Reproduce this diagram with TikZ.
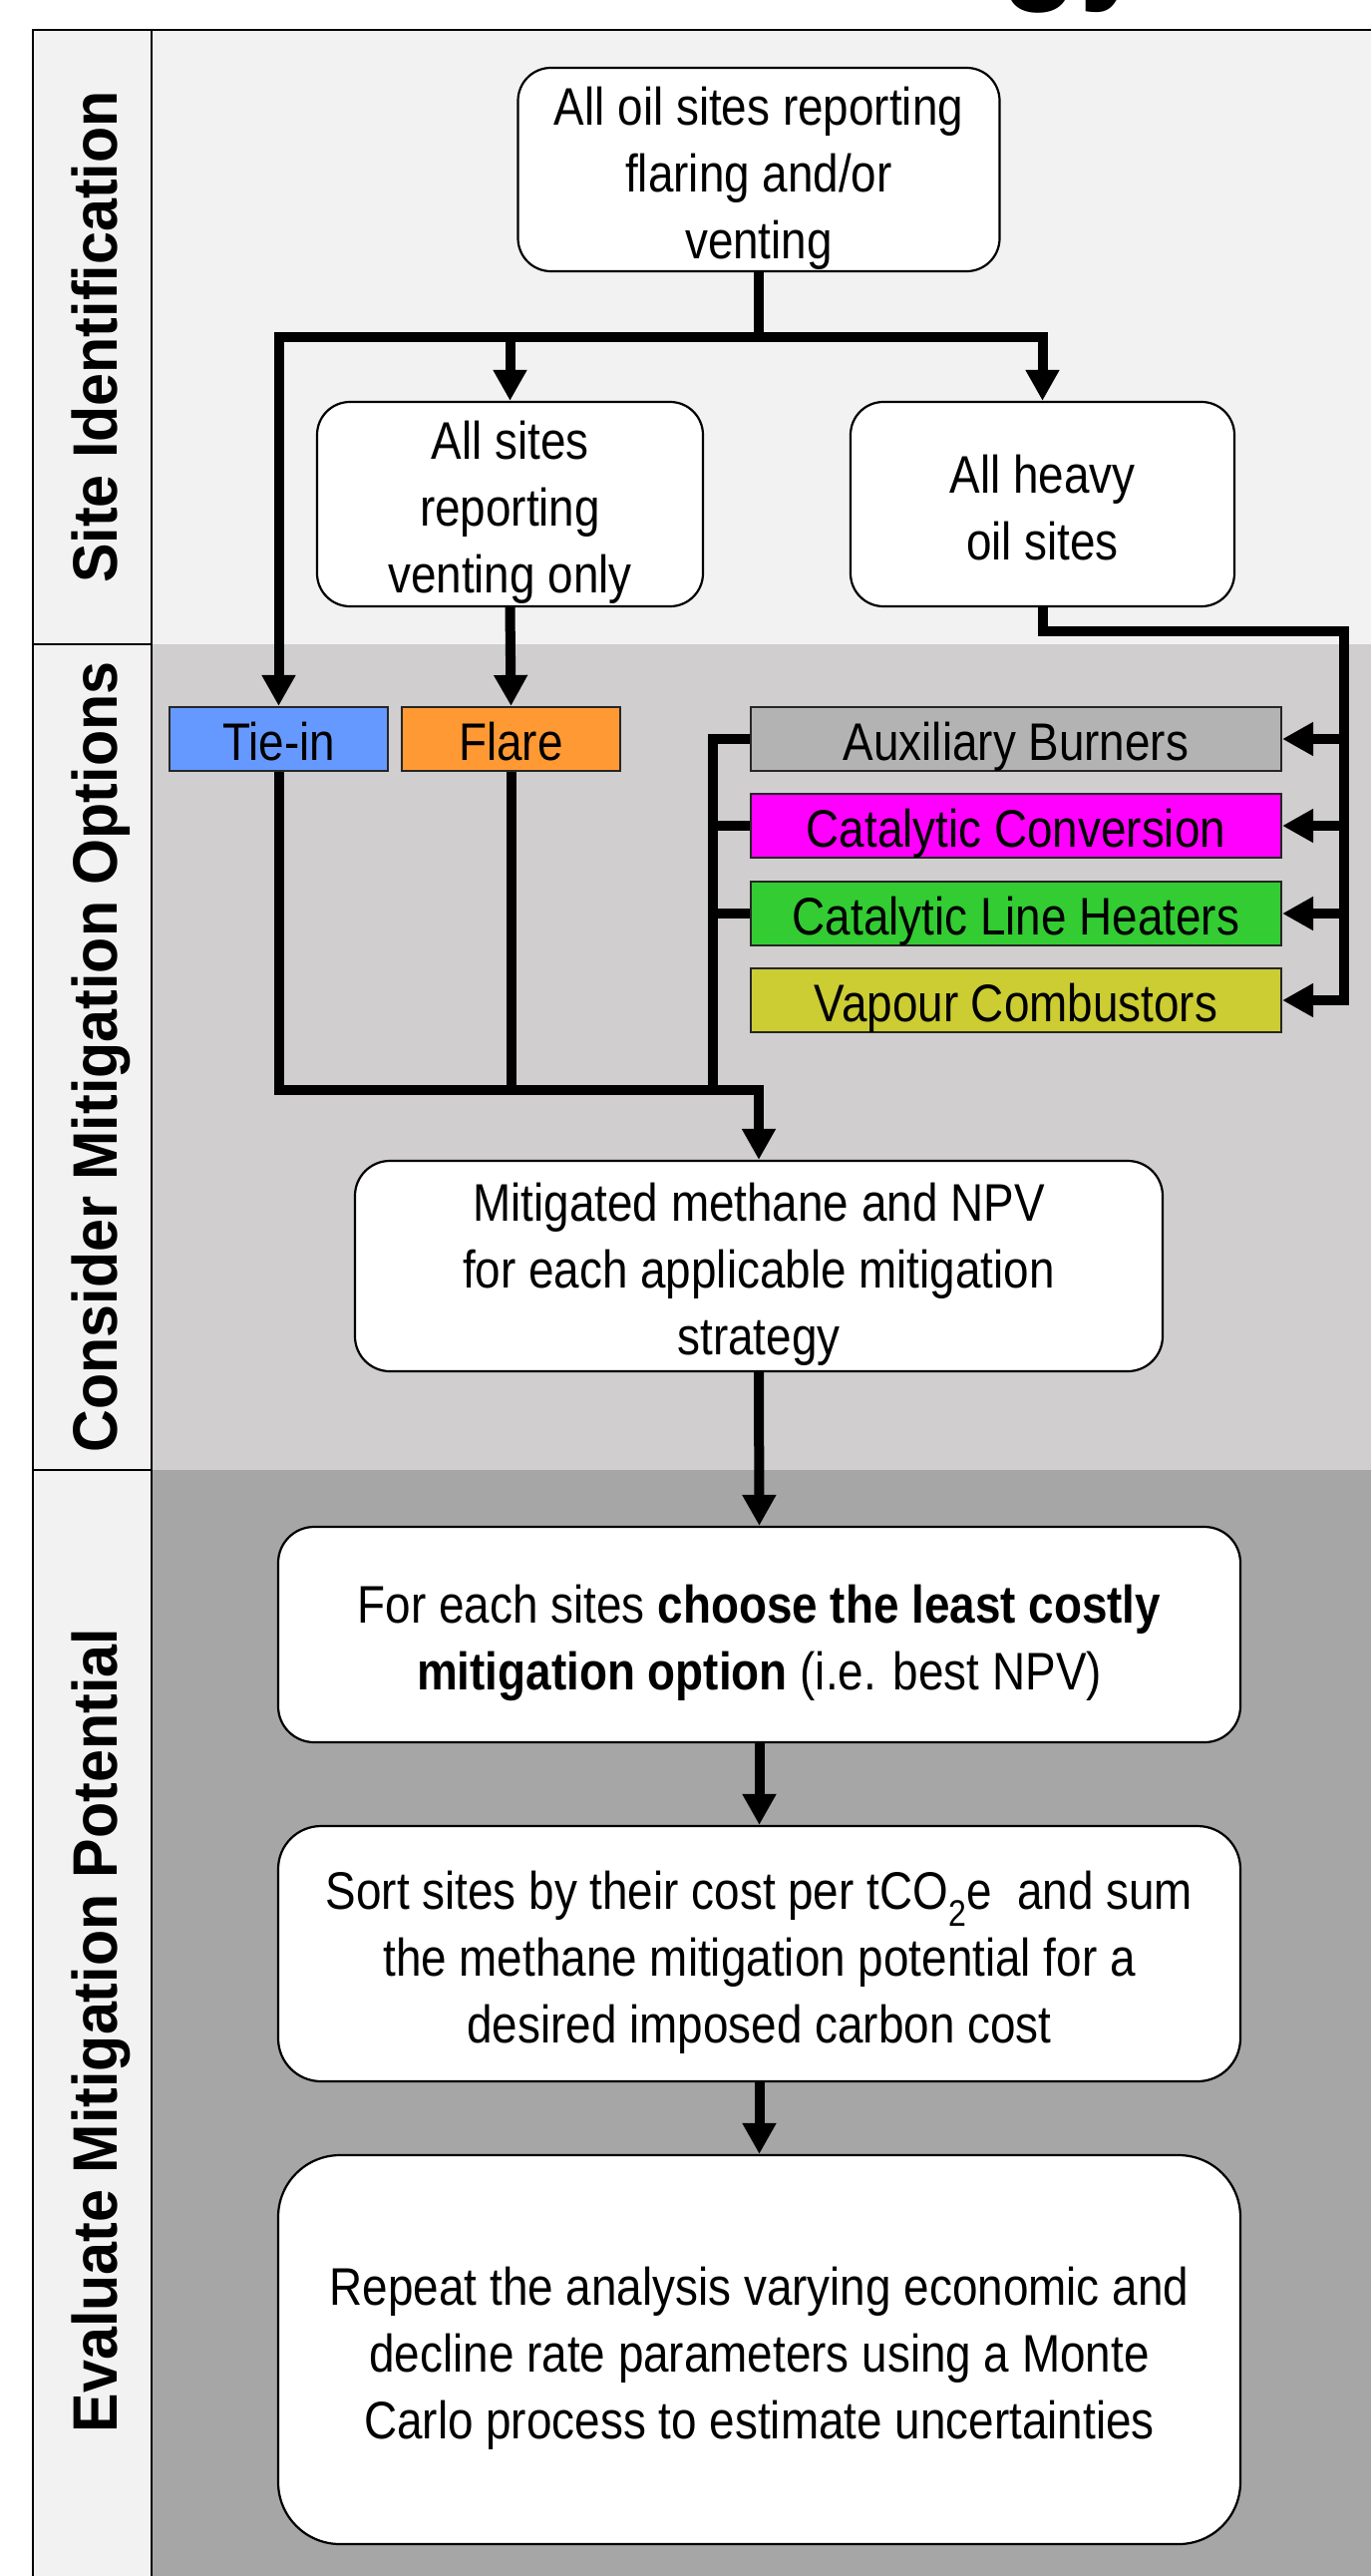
\documentclass[tikz,border=0pt]{standalone}
\usepackage{fontspec}
\usetikzlibrary{arrows.meta}
\newfontfamily\bodyf[FakeStretch=0.865]{Liberation Sans}
\newfontfamily\lanef[FakeStretch=0.94]{Liberation Sans}
\newcommand{\tS}{\rule{0pt}{55pt}}
\newcommand{\bS}{\rule[-11pt]{0pt}{0pt}}
\definecolor{laneA}{HTML}{F2F2F2}
\definecolor{laneB}{HTML}{D0CECE}
\definecolor{laneC}{HTML}{A6A6A6}
\definecolor{tieC}{HTML}{6699FF}
\definecolor{flareC}{HTML}{FF9933}
\definecolor{auxC}{HTML}{B3B3B3}
\definecolor{ccC}{HTML}{FF00FF}
\definecolor{clhC}{HTML}{33CC33}
\definecolor{vcC}{HTML}{CCCC33}
\tikzset{
 box/.style={draw=black, line width=2.2pt, fill=white, align=center, inner sep=0pt,
   font=\bodyf\fontsize{53}{67}\selectfont},
 opt/.style={draw=black!85, line width=2.2pt, align=center, inner sep=0pt,
   text height=53pt, text depth=11pt,
   font=\bodyf\fontsize{53}{67}\selectfont},
 conn/.style={line width=10pt, line join=miter, draw=black},
 arr/.style={conn, -{Triangle[length=31pt,width=32pt]}},
 lanelabel/.style={rotate=90, anchor=base, inner sep=0pt,
   font=\lanef\bfseries\fontsize{63}{70}\selectfont},
 frame/.style={line width=2.5pt, draw=black},
}
\begin{document}
\begin{tikzpicture}[x=1pt,y=-1pt]
\useasboundingbox (0,0) rectangle (1375,2583);
\fill[white] (0,0) rectangle (1375,2583);
% cropped title remnant
\begin{scope}
\clip (0,0) rectangle (1375,28);
\node[anchor=base west, inner sep=0pt, font=\bodyf\bfseries\fontsize{150}{150}\selectfont] (title) at (1003,-19) {gy};
\end{scope}
% lanes
\fill[laneA] (152,30) rectangle (1375,646);
\fill[laneB] (152,646) rectangle (1375,1474);
\fill[laneC] (152,1474) rectangle (1375,2583);
\fill[laneA] (33,30) rectangle (152,2583);
\draw[frame] (33,2583) -- (33,30) -- (1375,30);
\draw[frame] (152,30) -- (152,2583);
\draw[frame] (33,646) -- (152,646);
\draw[frame] (33,1474) -- (152,1474);
% lane labels
\node[lanelabel] (labA) at (117,338) {Site Identification};
\node[lanelabel] (labB) at (117,1060) {Consider Mitigation Options};
\node[lanelabel] (labC) at (117,2036) {Evaluate Mitigation Potential};
% boxes
\node[box, rounded corners=33pt, minimum width=483pt, minimum height=204pt] (b1) at (761,170)
  {\tS All oil sites reporting\\flaring and/or\\venting\bS};
\node[box, rounded corners=33pt, minimum width=387pt, minimum height=205pt] (b2) at (511.5,505.5)
  {\tS All sites\\reporting\\venting only\bS};
\node[box, rounded corners=33pt, minimum width=385pt, minimum height=205pt] (b3) at (1045.5,505.5)
  {\tS All heavy\\oil sites\bS};
\node[opt, fill=tieC, minimum width=219pt, minimum height=64pt] (tiein) at (279.5,741) {Tie-in};
\node[opt, fill=flareC, minimum width=219pt, minimum height=64pt] (flare) at (512.5,741) {Flare};
\node[opt, fill=auxC, minimum width=532pt, minimum height=64pt] (aux) at (1019,741) {Auxiliary Burners};
\node[opt, fill=ccC, minimum width=532pt, minimum height=64pt] (cc) at (1019,828) {Catalytic Conversion};
\node[opt, fill=clhC, minimum width=532pt, minimum height=64pt] (clh) at (1019,916) {Catalytic Line Heaters};
\node[opt, fill=vcC, minimum width=532pt, minimum height=64pt] (vc) at (1019,1003) {Vapour Combustors};
\node[box, rounded corners=35pt, minimum width=810pt, minimum height=211pt] (mit) at (761,1269.5)
  {\tS Mitigated methane and NPV\\for each applicable mitigation\\strategy\bS};
\node[box, rounded corners=36pt, minimum width=965pt, minimum height=216pt] (fe) at (761.5,1639)
  {\tS For each sites \textbf{choose the least costly}\\\textbf{mitigation option} (i.e. best NPV)\bS};
\node[box, rounded corners=43pt, minimum width=965pt, minimum height=256pt] (sort) at (761.5,1959)
  {\tS Sort sites by their cost per tCO\textsubscript{2}e~ and sum\\the methane mitigation potential for a\\desired imposed carbon cost\bS};
\node[box, rounded corners=62pt, minimum width=965pt, minimum height=390pt] (rep) at (761.5,2356)
  {\tS Repeat the analysis varying economic and\\decline rate parameters using a Monte\\Carlo process to estimate uncertainties\bS};
% junctions
\coordinate (split) at (761,338);
\coordinate (mrg) at (761,1093);
\coordinate (bus) at (715,1093);
\coordinate (rbus) at (1348,633);
% connectors
\draw[conn] (b1.south) -- (split);
\draw[arr] (split) -| (tiein.north);
\draw[arr] (split) -| (b3.north);
\draw[arr] (split -| b2.north) -- (b2.north);
\draw[arr] (b2.south) -- (flare.north);
\draw[arr] (b3.south) |- (rbus) |- (vc.east);
\draw[arr] (aux.east -| rbus) -- (aux.east);
\draw[arr] (cc.east -| rbus) -- (cc.east);
\draw[arr] (clh.east -| rbus) -- (clh.east);
\draw[arr] (tiein.south) |- (mrg) -- (mit.north);
\draw[conn] (flare.south) -- (flare.south |- mrg);
\draw[conn] (aux.west) -| (bus);
\draw[conn] (cc.west) -- (cc.west -| bus);
\draw[conn] (clh.west) -- (clh.west -| bus);
\draw[arr] (mit.south) -- (fe.north);
\draw[arr] (fe.south) -- (sort.north);
\draw[arr] (sort.south) -- (rep.north);
\end{tikzpicture}
\end{document}
